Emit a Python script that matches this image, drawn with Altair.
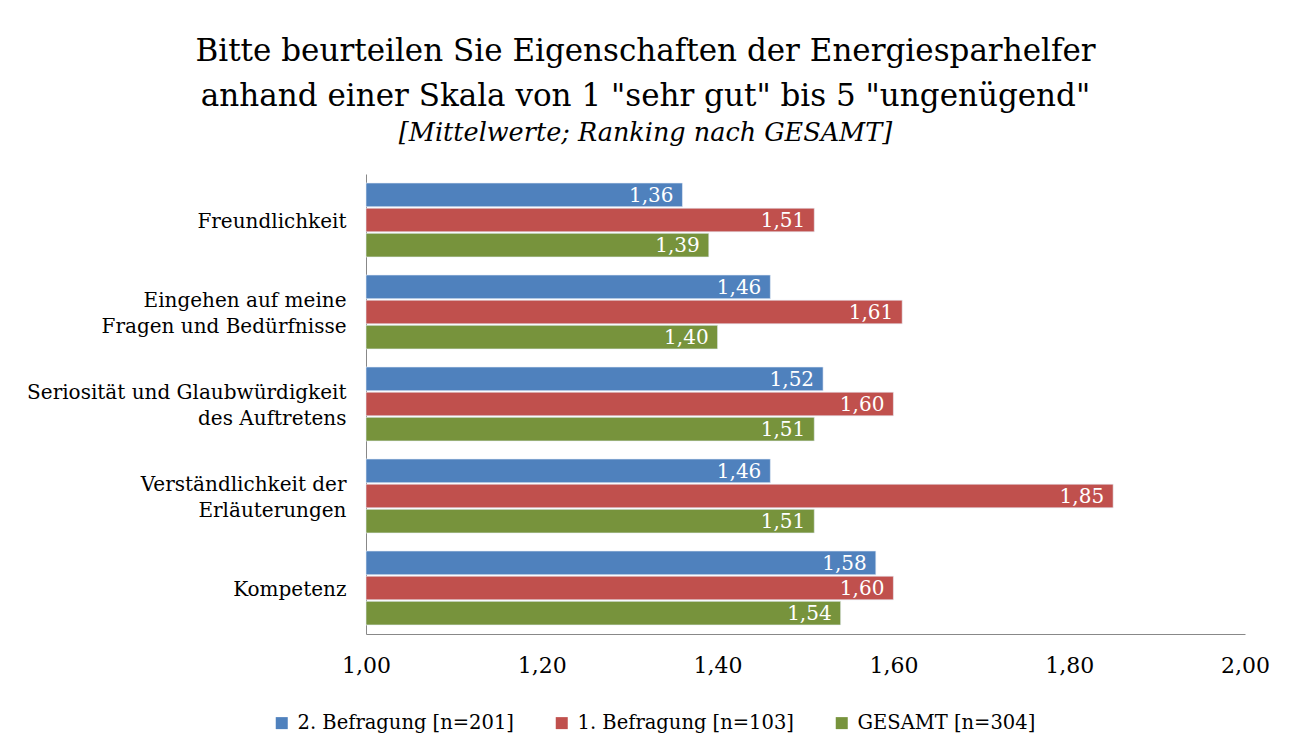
import altair as alt
import pandas as pd

categories = [
    "Freundlichkeit",
    "Eingehen auf meine|Fragen und Bedürfnisse",
    "Seriosität und Glaubwürdigkeit|des Auftretens",
    "Verständlichkeit der|Erläuterungen",
    "Kompetenz",
]
series = ["2. Befragung [n=201]", "1. Befragung [n=103]", "GESAMT [n=304]"]
colors = ["#4F81BD", "#C0504D", "#77933C"]
befragung2 = [1.36, 1.46, 1.52, 1.46, 1.58]
befragung1 = [1.51, 1.61, 1.60, 1.85, 1.60]
gesamt = [1.39, 1.40, 1.51, 1.51, 1.54]

rows = []
for i, c in enumerate(categories):
    for s, vals in zip(series, [befragung2, befragung1, gesamt]):
        rows.append({"Kategorie": c, "Serie": s, "Wert": vals[i]})
df = pd.DataFrame(rows)

FONT = "DejaVu Serif"

base = alt.Chart(df).encode(
    y=alt.Y("Kategorie:N", sort=categories,
            scale=alt.Scale(paddingInner=0.196, paddingOuter=0.098),
            axis=alt.Axis(title=None, labelExpr="split(datum.label, '|')",
                          labelFontSize=20, labelFont=FONT, labelColor="#000000",
                          labelPadding=20, ticks=False, domainColor="#888888",
                          labelLineHeight=26, labelAlign="right", labelLimit=400,
                          labelOffset={"condition": {"test": "indexof(datum.value, '|') >= 0",
                                                     "value": -11},
                                       "value": 2})),
    yOffset=alt.YOffset("Serie:N", sort=series,
                        scale=alt.Scale(paddingInner=0.06)),
)

bars = base.mark_bar(stroke="#e8eef7", strokeWidth=0.6).encode(
    x=alt.X("Wert:Q", scale=alt.Scale(domain=[1, 2], zero=False, nice=False),
            axis=alt.Axis(title=None, values=[1.0, 1.2, 1.4, 1.6, 1.8, 2.0],
                          labelExpr="replace(format(datum.value, '.2f'), '.', ',')",
                          labelFontSize=22, labelFont=FONT, labelColor="#000000",
                          labelPadding=21, ticks=False, grid=False,
                          domainColor="#888888", labelFlush=False)),
    x2=alt.datum(1.0),
    color=alt.Color("Serie:N", sort=series,
                    scale=alt.Scale(domain=series, range=colors),
                    legend=alt.Legend(title=None, orient="none", direction="horizontal",
                                      legendX=-94, legendY=539,
                                      symbolType="square", symbolSize=144,
                                      labelFontSize=19.5, labelFont=FONT,
                                      labelColor="#000000", columnPadding=38,
                                      labelLimit=400, labelOffset=6,
                                      symbolStrokeWidth=0)),
)

labels = base.mark_text(align="right", baseline="middle", dx=-9, dy=1,
                        color="white", fontSize=20, font=FONT).encode(
    x=alt.X("Wert:Q"),
    text=alt.Text("label:N"),
).transform_calculate(label="replace(format(datum.Wert, '.2f'), '.', ',')")

chart = alt.layer(bars, labels).properties(
    width=879, height=460,
    autosize=alt.AutoSizeParams(type="none"),
    padding={"left": 358, "top": 166, "right": 35, "bottom": 110},
    title=alt.TitleParams(
        text=["Bitte beurteilen Sie Eigenschaften der Energiesparhelfer",
              'anhand einer Skala von 1 "sehr gut" bis 5 "ungenügend"'],
        subtitle="[Mittelwerte; Ranking nach GESAMT]",
        anchor="middle", dx=-160, offset=27,
        font=FONT, fontSize=31, fontWeight="normal", color="#000000",
        lineHeight=45,
        subtitleFont=FONT, subtitleFontSize=25.5, subtitleFontStyle="italic",
        subtitleColor="#000000", subtitlePadding=8,
    ),
).configure_view(stroke=None)

chart.save("out.html", embed_options={"renderer": "svg", "actions": False})
